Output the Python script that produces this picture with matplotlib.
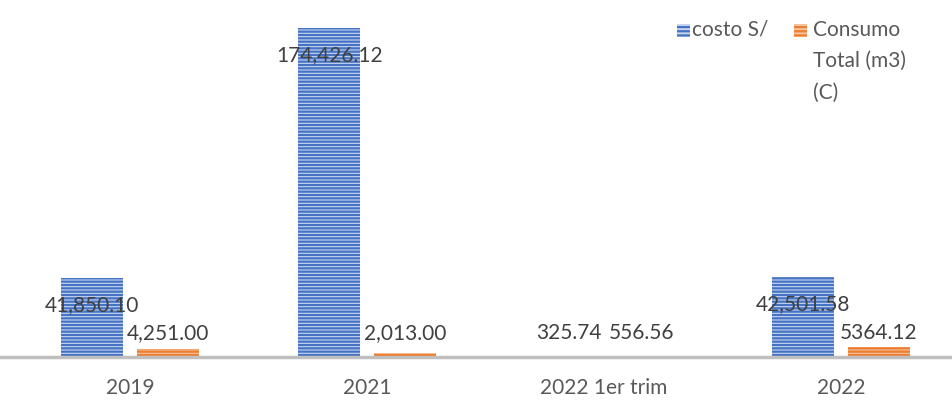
import matplotlib.pyplot as plt
import matplotlib.patches as mpatches
import numpy as np

plt.rcParams['font.family'] = ['Lato', 'DejaVu Sans']
plt.rcParams['hatch.linewidth'] = 1.6

# data
categories = ['2019', '2021', '2022 1er trim', '2022']
costo = [41850.10, 174426.12, 325.74, 42501.58]
consumo = [4251.00, 2013.00, 556.56, 5364.12]
costo_labels = ['41,850.10', '174,426.12', '325.74', '42,501.58']
consumo_labels = ['4,251.00', '2,013.00', '556.56', '5364.12']
legend_labels = ['costo S/', 'Consumo\nTotal (m3)\n(C)']

blue = '#4472C4'
orange = '#ED7D31'
blue_face = '#c9d6f0'
orange_face = '#f6c3a0'
text_col = '#404040'

fig = plt.figure(figsize=(9.52, 4.0), dpi=100)
ax = fig.add_axes([0, 1 - 357 / 400, 1, 357 / 400])

x = np.arange(len(categories))
w = 0.262
off = 0.16

ax.bar(x - off, costo, w, facecolor=blue_face, edgecolor=blue, hatch='-----', linewidth=0)
ax.bar(x + off, consumo, w, facecolor=orange_face, edgecolor=orange, hatch='-----', linewidth=0)

ax.set_xlim(-0.5485, 3.468)
ax.set_ylim(0, 189270)

# data labels (Excel places these a bit oddly)
for i in range(len(categories)):
    if costo[i] > 10000:
        ax.annotate(costo_labels[i], (x[i] - off, costo[i]), xytext=(0, -27),
                    textcoords='offset pixels', ha='center', va='center',
                    fontsize=15, color=text_col)
    else:
        ax.annotate(costo_labels[i], (x[i] - off, 0), xytext=(3, 24),
                    textcoords='offset pixels', ha='center', va='center',
                    fontsize=15, color=text_col)
    ax.annotate(consumo_labels[i], (x[i] + off, 0), xytext=(0, 24),
                textcoords='offset pixels', ha='center', va='center',
                fontsize=15, color=text_col)

for s in ['top', 'right', 'left']:
    ax.spines[s].set_visible(False)
ax.spines['bottom'].set_color('#bfbfbf')
ax.spines['bottom'].set_linewidth(2.5)
ax.set_yticks([])
ax.set_xticks(x)
ax.set_xticklabels(categories, fontsize=15, color='#595959')
ax.tick_params(axis='x', length=0, pad=15)

# legend drawn by hand so the swatch sits on the first line
W, H = 952, 400
legend_items = [(677, 692, blue_face, blue), (794, 813, orange_face, orange)]
for (sx, tx, fc, ec), lab in zip(legend_items, legend_labels):
    fig.patches.append(mpatches.Rectangle((sx / W, 1 - 37 / H), 13 / W, 13 / H,
                                          transform=fig.transFigure, facecolor=fc,
                                          edgecolor=ec, hatch='----', linewidth=0))
    fig.text(tx / W, 1 - 20 / H, lab, ha='left', va='top', fontsize=15,
             color='#595959', linespacing=1.7)

fig.savefig('out.png', dpi=100)
